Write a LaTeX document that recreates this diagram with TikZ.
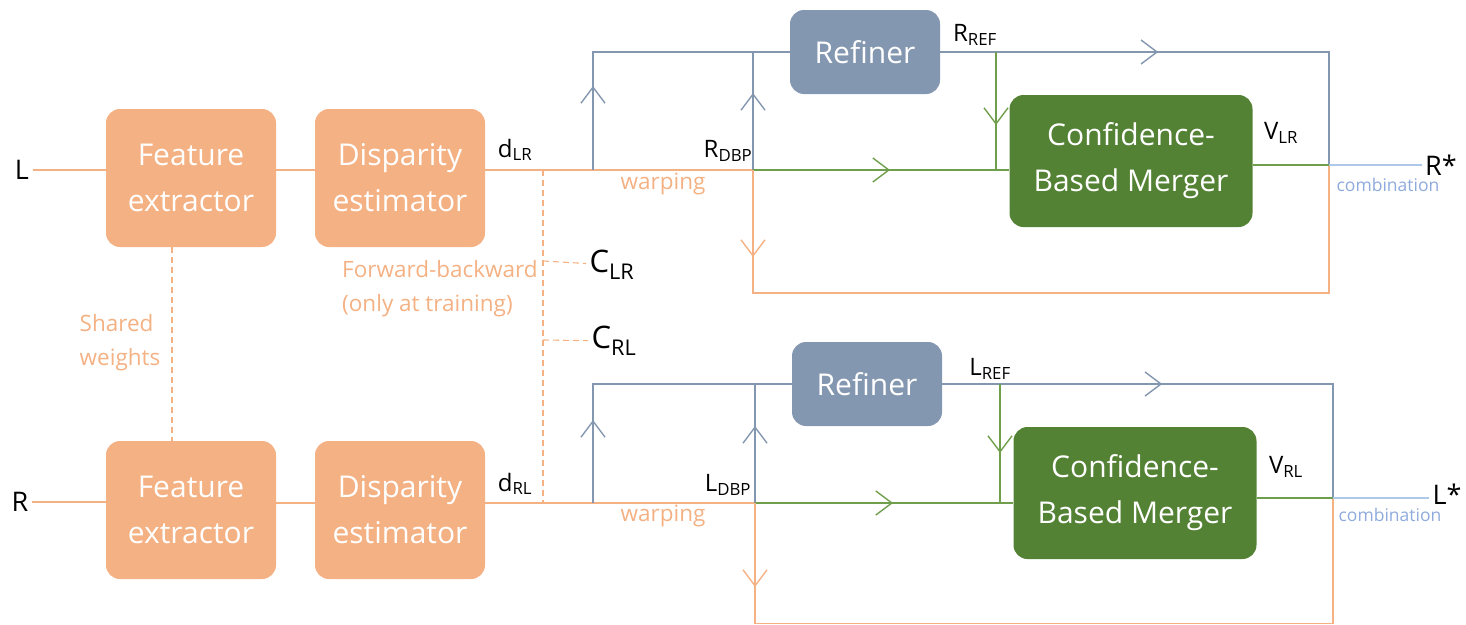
\documentclass[tikz,border=0pt]{standalone}
\usepackage{fontspec}
\setmainfont{Open Sans}
\usepackage{tikz}
\usetikzlibrary{arrows.meta,decorations.markings}

\definecolor{peach}{HTML}{F4B183}
\definecolor{slate}{HTML}{8497B0}
\definecolor{leaf}{HTML}{548235}
\definecolor{moss}{HTML}{6F9E4C}
\definecolor{sky}{HTML}{AFC8EA}
\definecolor{skytext}{HTML}{8FAADC}

\newcommand{\lbl}[2]{#1\textsubscript{#2}}

\tikzset{
  box/.style={rounded corners=14pt,text=white,align=center,font=\fontsize{30}{46}\selectfont},
  stage/.style={box,fill=peach,minimum width=170pt,minimum height=138pt},
  refine/.style={box,fill=slate,minimum width=150pt,minimum height=84pt},
  merge/.style={box,fill=leaf,minimum width=243pt,minimum height=132pt},
  tag/.style={font=\fontsize{24}{28}\selectfont},
  big/.style={font=\fontsize{27}{30}\selectfont},
  cbig/.style={font=\fontsize{31}{34}\selectfont},
  note/.style={text=peach,align=left,font=\fontsize{22.5}{34}\selectfont},
  comb/.style={text=skytext,font=\fontsize{17.5}{20}\selectfont},
  oline/.style={draw=peach,line width=1.4pt},
  bline/.style={draw=slate,line width=1.4pt},
  gline/.style={draw=moss,line width=1.4pt},
  skyline/.style={draw=sky,line width=1.4pt},
  dline/.style={draw=peach,line width=1.1pt,dash pattern=on 6pt off 4pt},
  arrowat/.style={postaction={decorate},decoration={markings,
    mark=at position #1 with {\arrow{Straight Barb[length=16pt,width=24pt]}}}}
}

\begin{document}
\begin{tikzpicture}[x=1pt,y=-1pt,node distance=209pt]
\useasboundingbox (0,0) rectangle (1466,624);

% upper branch
\node[stage] (fe1) at (191,178) {Feature\\extractor};
\node[stage] (de1) [right of = fe1] {Disparity\\estimator};
\node[refine] (ref1) at (865,52) {Refiner};
\node[merge] (cbm1) at (1131,161) {Confidence-\\Based Merger};

% lower branch
\node[stage] (fe2) at (191,510) {Feature\\extractor};
\node[stage] (de2) [right of = fe2] {Disparity\\estimator};
\node[refine] (ref2) at (867,384) {Refiner};
\node[merge] (cbm2) at (1135,493) {Confidence-\\Based Merger};

% labels
\node[big] (Lin) at (22,170) {L};
\node[big] (Rin) at (20,502) {R};
\node[big] (Rout) at (1441,165) {R*};
\node[big] (Lout) at (1447,494) {L*};
\node[tag] (dLR) at (515,150) {\lbl{d}{LR}};
\node[tag] (RDBP) at (728,151) {\lbl{R}{DBP}};
\node[tag] (RREF) at (975,35) {\lbl{R}{REF}};
\node[tag] (VLR) at (1281,133) {\lbl{V}{LR}};
\node[tag] (dRL) at (515,484) {\lbl{d}{RL}};
\node[tag] (LDBP) at (728,485) {\lbl{L}{DBP}};
\node[tag] (LREF) at (990,369) {\lbl{L}{REF}};
\node[tag] (VRL) at (1286,467) {\lbl{V}{RL}};
\node[cbig] (CLR) at (612,265) {\lbl{C}{LR}};
\node[cbig] (CRL) at (614,341) {\lbl{C}{RL}};
\node[note] (fb) at (440,289) {Forward-backward\\(only at training)};
\node[note] (sw) at (120,343) {Shared\\weights};
\node[note] (wp1) at (663,184) {warping};
\node[note] (wp2) at (663,516) {warping};
\node[comb] (cb1) at (1388,185) {combination};
\node[comb] (cb2) at (1390,515) {combination};

% junctions
\coordinate (c1) at (543,170);
\coordinate (s1) at (593,170);
\coordinate (w1) at (753,170);
\coordinate (g1) at (996,52);
\coordinate (o1) at (1329,165);
\coordinate (b1) at (753,293);
\coordinate (k1) at (543,261);
\coordinate (k2) at (543,340);
\coordinate (c2) at (543,503);
\coordinate (s2) at (593,503);
\coordinate (w2) at (755,503);
\coordinate (g2) at (1000,384);
\coordinate (o2) at (1333,498);
\coordinate (b2) at (755,623.5);

% inputs
\draw[oline] (Lin) -- (Lin -| fe1.west);
\draw[oline] (fe1.east |- w1) -- (de1.west |- w1);
\draw[oline] (de1.east |- w1) -- (w1);
\draw[oline] (Rin) -- (Rin -| fe2.west);
\draw[oline] (fe2.east |- w2) -- (de2.west |- w2);
\draw[oline] (de2.east |- w2) -- (w2);

% dashed links
\draw[dline] ([xshift=-19pt]fe1.south) -- ([xshift=-19pt]fe2.north);
\draw[dline] (c1) -- (c2);
\draw[dline] (k1) -- (CLR);
\draw[dline] (k2) -- (CRL);

% upper refine and merge
\draw[bline,arrowat=84pt] (s1) |- (ref1.west);
\draw[bline,arrowat=77pt] (w1) -- (w1 |- ref1.west);
\draw[bline,arrowat=218pt] (ref1.east) -| (o1);
\draw[gline,arrowat=73pt] (g1) -- (g1 |- w1);
\draw[gline,arrowat=137pt] (w1) -- (w1 -| cbm1.west);
\draw[oline,arrowat=87pt] (w1) -- (b1) -| (o1);
\draw[gline] (cbm1.east |- o1) -- (o1);
\draw[skyline] (o1) -- (o1 -| Rout.west);

% lower refine and merge
\draw[bline,arrowat=83pt] (s2) |- (ref2.west);
\draw[bline,arrowat=77pt] (w2) -- (w2 |- ref2.west);
\draw[bline,arrowat=220pt] (ref2.east) -| (o2);
\draw[gline,arrowat=69pt] (g2) -- (g2 |- w2);
\draw[gline,arrowat=138pt] (w2) -- (w2 -| cbm2.west);
\draw[oline,arrowat=84pt] (w2) -- (b2) -| (o2);
\draw[gline] (cbm2.east |- o2) -- (o2);
\draw[skyline] (o2) -- (o2 -| Lout.west);
\end{tikzpicture}
\end{document}
